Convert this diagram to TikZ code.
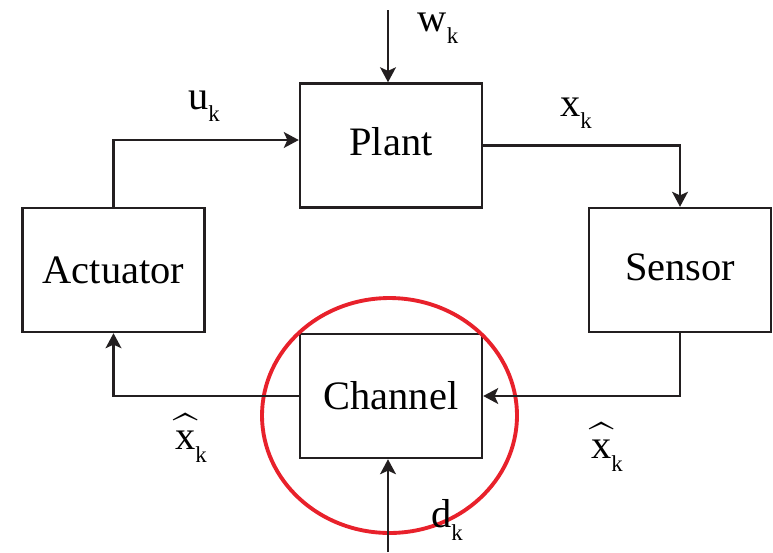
\documentclass[tikz,border=0pt]{standalone}
\usepackage{amsmath}
\usepackage{fontspec}
\setmainfont{Liberation Serif}
\usepackage{tikz}
\usetikzlibrary{arrows.meta,positioning,shapes.geometric}
\definecolor{loopRed}{HTML}{E8212B}
\definecolor{loopInk}{HTML}{231F20}
\newcommand{\sigk}[1]{#1\raisebox{-7pt}{\fontsize{13}{13}\selectfont k}}
\newcommand{\hatx}{\rlap{\raisebox{2.5pt}{$\widehat{\phantom{\mbox{x}}}$}}x}

\begin{document}
\begin{tikzpicture}[x=0.02cm,y=-0.02cm,font=\fontsize{23}{26}\selectfont,
    blk/.style={draw=loopInk,line width=1.4pt,minimum width=3.64cm,minimum height=2.48cm,
                inner sep=0pt,align=center},
    arr/.style={-{Stealth[length=8.5pt,width=9pt,inset=2pt]},loopInk,line width=1.4pt},
    sig/.style={inner sep=0pt,anchor=center},
    ring/.style={ellipse,draw=loopRed,line width=2.2pt,minimum width=5.1cm,minimum height=4.7cm}]

  \useasboundingbox (0,0) rectangle (773,552);

  \node[blk] (plant) at (391,145.5) {\raisebox{4.8pt}{Plant}};
  \node[blk] (act)   at (113.5,270) {Actuator};
  \node[blk] (sens)  at (680,270)   {\raisebox{2.8pt}{Sensor}};
  \node[blk] (chan)  at (391,396)   {Channel};

  \node[ring] (cloud) at (389.5,415.5) {};

  \coordinate (wtop) at (388,10);
  \coordinate (dbot) at (388,552);
  \coordinate (uy)   at (0,140);

  \draw[arr] (act.north) |- (plant.west |- uy);
  \draw[arr] (plant.east) -| (sens.north);
  \draw[arr] (wtop) -- (wtop |- plant.north);
  \draw[arr] (sens.south) |- (chan.east);
  \draw[arr] (chan.west) -| (act.south);
  \draw[arr] (dbot) -- (dbot |- chan.south);

  \node[sig] (wk)  at (438,28)  {\sigk{w}};
  \node[sig] (uk)  at (204,106) {\sigk{u}};
  \node[sig] (xk)  at (576,113) {\sigk{x}};
  \node[sig] (xhl) at (191,438) {\sigk{\hatx}};
  \node[sig] (xhr) at (607,447) {\sigk{\hatx}};
  \node[sig] (dk)  at (447,520) {\sigk{d}};
\end{tikzpicture}
\end{document}
